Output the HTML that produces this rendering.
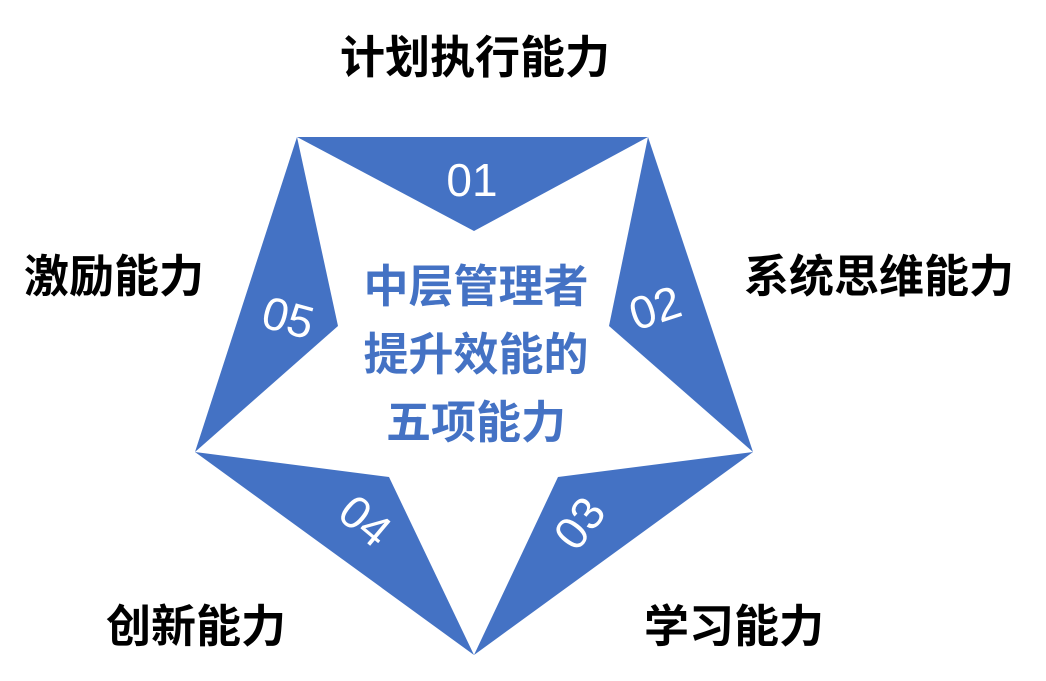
<!DOCTYPE html>
<html><head><meta charset="utf-8"><style>
html,body{margin:0;padding:0;background:#fff;}
svg{display:block}
</style></head><body>
<svg width="1046" height="681" viewBox="0 0 1046 681" xmlns="http://www.w3.org/2000/svg">
<g fill="#4472c4">
<polygon points="297,137 648,137 474,231"/>
<polygon points="648,137 753,452 609,326"/>
<polygon points="753,452 474,655 558,477"/>
<polygon points="474,655 195,452 389,477"/>
<polygon points="195,452 297,137 338,326"/>
</g>
<g font-family="Liberation Sans, sans-serif" fill="#fff" font-size="46" text-anchor="middle">
<text x="472" y="196">01</text>
<text x="0" y="0" transform="translate(660,323) rotate(-18)">02</text>
<text x="0" y="0" transform="translate(592,533) rotate(-52)">03</text>
<text x="0" y="0" transform="translate(355,533) rotate(40)">04</text>
<text x="0" y="0" transform="translate(284,333) rotate(15)">05</text>
</g>
<g font-family="Liberation Sans, Noto Sans CJK SC, sans-serif" font-weight="bold" fill="#4472c4" font-size="45" text-anchor="middle">
<text x="476" y="302">中层管理者</text>
<text x="476" y="370">提升效能的</text>
<text x="476" y="438">五项能力</text>
</g>
<g font-family="Liberation Sans, Noto Sans CJK SC, sans-serif" font-weight="bold" fill="#000" font-size="45">
<text x="475" y="73" text-anchor="middle">计划执行能力</text>
<text x="744" y="292">系统思维能力</text>
<text x="24" y="292">激励能力</text>
<text x="106" y="642">创新能力</text>
<text x="644" y="642">学习能力</text>
</g>
</svg>
</body></html>
